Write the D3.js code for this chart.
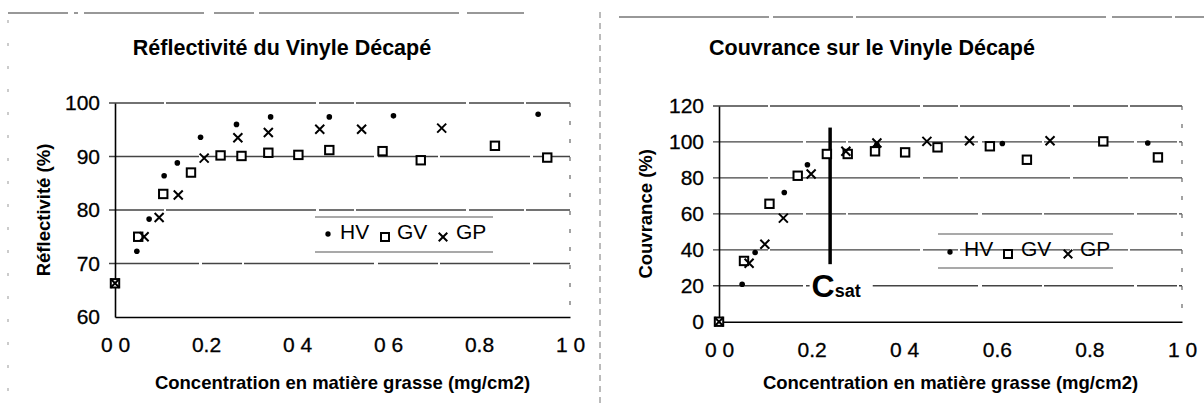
<!DOCTYPE html>
<html><head><meta charset="utf-8">
<script src="https://cdn.jsdelivr.net/npm/d3@7"></script>
<style>
html,body{margin:0;padding:0;background:#fff;}
svg{display:block;font-family:"Liberation Sans",Arial,sans-serif;}
</style></head>
<body>
<svg id="c" width="1204" height="408"></svg>
<script>
// ---------- data ----------
// Réflectivité (left chart)
const reflHV_x = [0, 0.048, 0.075, 0.108, 0.137, 0.188, 0.267, 0.342, 0.471, 0.612, 0.930];
const reflHV_y = [66.3, 72.3, 78.3, 86.4, 88.8, 93.6, 96.0, 97.4, 97.4, 97.6, 97.9];
const reflGV_x = [0, 0.051, 0.106, 0.167, 0.232, 0.278, 0.337, 0.403, 0.471, 0.588, 0.672, 0.835, 0.950];
const reflGV_y = [66.3, 75.0, 83.0, 87.0, 90.2, 90.1, 90.7, 90.3, 91.2, 91.0, 89.3, 92.0, 89.8];
const reflGP_x = [0, 0.064, 0.097, 0.139, 0.196, 0.270, 0.337, 0.450, 0.542, 0.718];
const reflGP_y = [66.3, 75.0, 78.6, 82.8, 89.7, 93.5, 94.5, 95.1, 95.1, 95.3];
// Couvrance (right chart)
const couvHV_x = [0, 0.050, 0.078, 0.141, 0.191, 0.280, 0.341, 0.612, 0.926];
const couvHV_y = [0, 20.8, 38.5, 71.9, 87.3, 95.0, 98.5, 99.1, 99.4];
const couvGV_x = [0, 0.054, 0.109, 0.170, 0.233, 0.278, 0.337, 0.402, 0.472, 0.585, 0.665, 0.830, 0.948];
const couvGV_y = [0, 33.8, 65.6, 81.2, 93.3, 93.3, 94.8, 94.2, 97.0, 97.6, 90.1, 100.3, 91.4];
const couvGP_x = [0, 0.065, 0.099, 0.139, 0.199, 0.274, 0.341, 0.449, 0.541, 0.715];
const couvGP_y = [0, 32.5, 43.1, 57.6, 82.2, 94.8, 99.4, 100.3, 100.7, 100.7];
// axes
const xTicks = [0, 0.2, 0.4, 0.6, 0.8, 1.0];
const xTickLabelsLeft = ["0 0", "0.2", "0 4", "0 6", "0.8", "1 0"];
const xTickLabelsRight = ["0 0", "0.2", "0 4", "0.6", "0.8", "1 0"];
const reflTicks = [60, 70, 80, 90, 100];
const couvTicks = [0, 20, 40, 60, 80, 100, 120];
const seriesNames = ["HV", "GV", "GP"];
const csatX = [0.24];
const csatRange = [32, 108];
const csatLabelPos = [0.2, 14];

const svg = d3.select("#c");
const FONT = '"Liberation Sans",Arial,sans-serif';

// panel frames (scanned borders)
svg.append("line").attr("x1", 8).attr("x2", 524).attr("y1", 13).attr("y2", 13)
  .attr("stroke", "#333").attr("stroke-width", 1.2).attr("stroke-dasharray", "60 6 4 6 120 10 40 5 200 8");
svg.append("line").attr("x1", 619).attr("x2", 1204).attr("y1", 17).attr("y2", 17)
  .attr("stroke", "#333").attr("stroke-width", 1.2).attr("stroke-dasharray", "150 4 80 3 250 6 60 3");
svg.append("line").attr("x1", 600).attr("x2", 600).attr("y1", 12).attr("y2", 408)
  .attr("stroke", "#777").attr("stroke-width", 1).attr("stroke-dasharray", "6 5");
svg.append("line").attr("x1", 8).attr("x2", 8).attr("y1", 20).attr("y2", 400)
  .attr("stroke", "#999").attr("stroke-width", 1).attr("stroke-dasharray", "3 20");

function symbolFor(g, name, cx, cy, scale) {
  const s = scale || 1;
  if (name === "HV") {
    g.append("circle").attr("cx", cx).attr("cy", cy).attr("r", 2.8 * s).attr("fill", "#000");
  } else if (name === "GV") {
    const h = 4.2 * s;
    g.append("rect").attr("x", cx - h).attr("y", cy - h).attr("width", 2 * h).attr("height", 2 * h)
      .attr("fill", "#fff").attr("stroke", "#000").attr("stroke-width", 2);
  } else {
    const h = 4.5 * s;
    g.append("path").attr("d", `M${cx - h},${cy - h}L${cx + h},${cy + h}M${cx - h},${cy + h}L${cx + h},${cy - h}`)
      .attr("stroke", "#000").attr("stroke-width", 2).attr("fill", "none");
  }
}

function panel(o) {
  const g = svg.append("g");
  const x = d3.scaleLinear().domain([0, 1]).range(o.xr);
  const y = d3.scaleLinear().domain(o.yd).range(o.yr);

  // gridlines
  const grid = g.append("g");
  o.yTicks.forEach((t, i) => {
    if (t === o.yd[0]) return;
    grid.append("line").attr("x1", x(0) - 6).attr("x2", x(1)).attr("y1", y(t)).attr("y2", y(t))
      .attr("stroke", "#444").attr("stroke-width", 1.3)
      .attr("stroke-dasharray", i % 2 ? "90 3 40 2 130 4 60 2" : "55 2 150 3 35 2 110 3");
  });
  // right border
  g.append("line").attr("x1", x(1)).attr("x2", x(1)).attr("y1", y(o.yd[1])).attr("y2", y(o.yd[0]))
    .attr("stroke", "#666").attr("stroke-width", 1.2).attr("stroke-dasharray", "4 14");

  // y axis
  const ya = d3.axisLeft(y).tickValues(o.yTicks).tickSize(0).tickPadding(15).tickFormat(d3.format("d"));
  const yg = g.append("g").attr("transform", `translate(${x(0)},0)`).call(ya);
  yg.select(".domain").attr("stroke", "#000").attr("stroke-width", 1.6);
  yg.selectAll("text").attr("font-size", 21).attr("font-family", FONT).attr("fill", "#000")
    .attr("stroke", "#000").attr("stroke-width", 0.3);

  // x axis
  const xa = d3.axisBottom(x).tickValues(xTicks).tickSize(0).tickPadding(20)
    .tickFormat((d, i) => o.xLabels[i]);
  const xg = g.append("g").attr("transform", `translate(0,${y(o.yd[0])})`).call(xa);
  xg.select(".domain").attr("stroke", "#000").attr("stroke-width", 1.6);
  xg.selectAll("text").attr("font-size", 21).attr("font-family", FONT).attr("fill", "#000")
    .attr("stroke", "#000").attr("stroke-width", 0.3);

  // titles
  g.append("text").attr("x", o.titleX).attr("y", 55).attr("text-anchor", "middle")
    .attr("font-size", 21.5).attr("font-weight", "bold").attr("font-family", FONT).text(o.title);
  g.append("text").attr("x", (o.xr[0] + o.xr[1]) / 2).attr("y", 389).attr("text-anchor", "middle")
    .attr("font-size", 18.5).attr("font-weight", "bold").attr("font-family", FONT)
    .text("Concentration en matière grasse (mg/cm2)");
  g.append("text").attr("transform", `translate(${o.yTitleX},${(o.yr[0] + o.yr[1]) / 2}) rotate(-90)`)
    .attr("text-anchor", "middle").attr("font-size", 18.5).attr("font-weight", "bold")
    .attr("font-family", FONT).text(o.yTitle);

  if (o.extra) o.extra(g, x, y);

  // points
  const pts = g.append("g");
  o.series.forEach(s => {
    s.xs.forEach((xv, i) => symbolFor(pts, s.name, x(xv), y(s.ys[i])));
  });

  // legend
  const L = o.legend;
  const lg = g.append("g");
  lg.append("line").attr("x1", L.x0).attr("x2", L.x1).attr("y1", L.y0).attr("y2", L.y0)
    .attr("stroke", "#555").attr("stroke-width", 1.2);
  lg.append("line").attr("x1", L.x0).attr("x2", L.x1).attr("y1", L.y1).attr("y2", L.y1)
    .attr("stroke", "#555").attr("stroke-width", 1.2);
  seriesNames.forEach((n, i) => {
    symbolFor(lg, n, L.sym[i], L.symY[i], 0.95);
    lg.append("text").attr("x", L.txt[i]).attr("y", L.base).attr("font-size", 21)
      .attr("font-family", FONT).text(n);
  });
}

panel({
  xr: [115, 570], yd: [60, 100], yr: [317, 103], yTicks: reflTicks, xLabels: xTickLabelsLeft,
  title: "Réflectivité du Vinyle Décapé", titleX: 282,
  yTitle: "Réflectivité (%)", yTitleX: 50,
  series: [
    { name: "HV", xs: reflHV_x, ys: reflHV_y },
    { name: "GV", xs: reflGV_x, ys: reflGV_y },
    { name: "GP", xs: reflGP_x, ys: reflGP_y }
  ],
  legend: { x0: 315, x1: 493, y0: 217, y1: 252, sym: [328, 385, 443], symY: [234, 237, 237], txt: [340, 397, 456], base: 239 }
});

panel({
  xr: [719, 1182], yd: [0, 120], yr: [321.7, 106], yTicks: couvTicks, xLabels: xTickLabelsRight,
  title: "Couvrance sur le Vinyle Décapé", titleX: 872,
  yTitle: "Couvrance (%)", yTitleX: 652,
  series: [
    { name: "HV", xs: couvHV_x, ys: couvHV_y },
    { name: "GV", xs: couvGV_x, ys: couvGV_y },
    { name: "GP", xs: couvGP_x, ys: couvGP_y }
  ],
  legend: { x0: 938, x1: 1113, y0: 234, y1: 268, sym: [950, 1008, 1068], symY: [252, 254, 254], txt: [964, 1021, 1080], base: 256 },
  extra: (g, x, y) => {
    g.append("line").attr("x1", x(csatX[0])).attr("x2", x(csatX[0]))
      .attr("y1", y(csatRange[1])).attr("y2", y(csatRange[0]))
      .attr("stroke", "#000").attr("stroke-width", 3.5);
    const t = g.append("text").attr("x", x(csatLabelPos[0])).attr("y", y(csatLabelPos[1]))
      .attr("font-family", FONT).attr("font-weight", "bold");
    t.append("tspan").attr("font-size", 32).text("C");
    t.append("tspan").attr("font-size", 18).text("sat");
    const bb = t.node().getBBox();
    g.insert("rect", () => t.node()).attr("x", bb.x - 2).attr("y", bb.y + 4)
      .attr("width", bb.width + 14).attr("height", bb.height - 6).attr("fill", "#fff");
  }
});
</script>
</body></html>
